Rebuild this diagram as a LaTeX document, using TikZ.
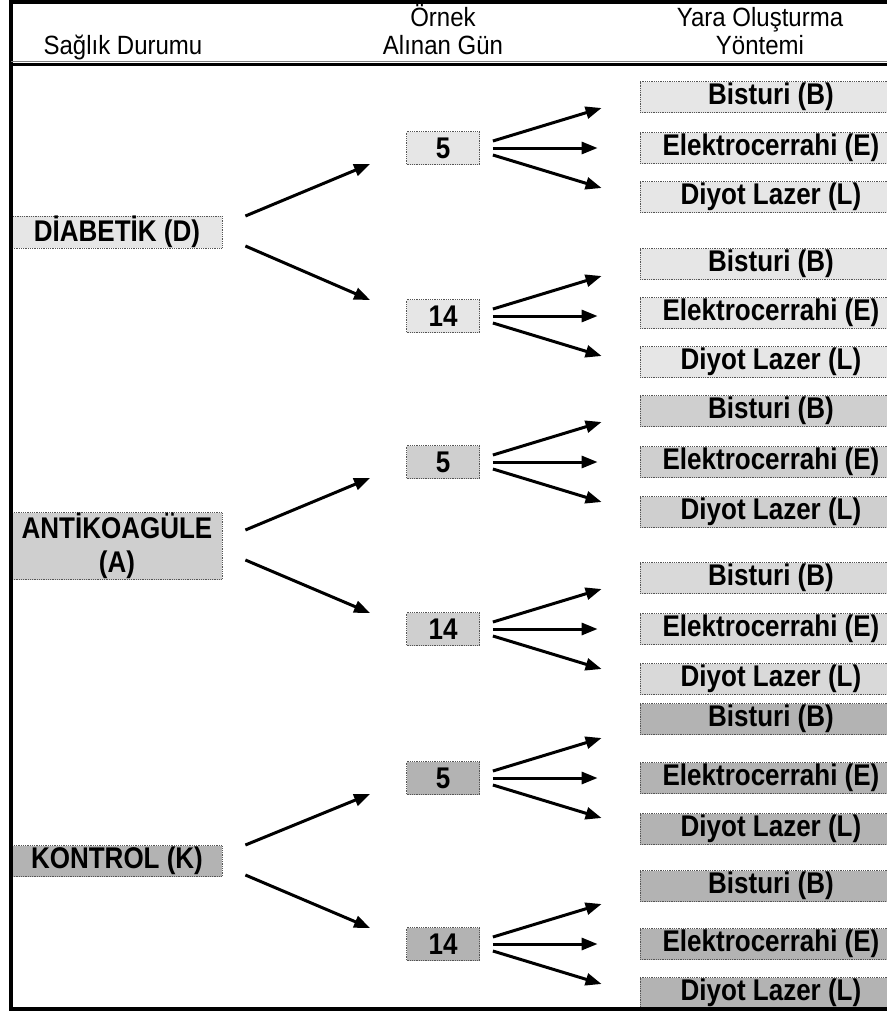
\documentclass[tikz,border=0pt]{standalone}
\usepackage{fontspec}
\setmainfont{Liberation Sans}
\usetikzlibrary{arrows.meta,calc}
\definecolor{cD}{HTML}{E6E6E6}
\definecolor{cA}{HTML}{CFCFCF}
\definecolor{cAl}{HTML}{D9D9D9}
\definecolor{cK}{HTML}{B3B3B3}
\definecolor{bordc}{HTML}{555555}
\newcommand{\tx}[1]{\scalebox{1}[1.15]{#1}}
\newcommand{\hx}[1]{\scalebox{1}[1.1]{#1}}
\begin{document}
\begin{tikzpicture}[x=1pt,y=-1pt,
 box/.style={draw=bordc, densely dotted, line width=0.8pt, inner sep=0pt, font=\fontsize{26}{28}\selectfont\bfseries, anchor=center, minimum height=31pt},
 lone/.style={box, minimum width=210pt},
 ltwo/.style={box, minimum width=73pt, minimum height=33pt},
 lthree/.style={box, minimum width=262pt},
 arr/.style={line width=3pt, -{Triangle[length=16pt,width=12pt]}},
 head/.style={font=\fontsize{24}{29}\selectfont, anchor=base},
]
\useasboundingbox (0,0) rectangle (887,1013);
\clip (0,0) rectangle (887,1013);
\fill[white] (0,0) rectangle (887,1013);

% header
\node[head] (h1) at (123,54) {\hx{Sağlık Durumu}};
\node[head] (h2a) at (443,26) {\hx{Örnek}};
\node[head] (h2b) at (443,54) {\hx{Alınan Gün}};
\node[head] (h3a) at (760,26) {\hx{Yara Oluşturma}};
\node[head] (h3b) at (760,54) {\hx{Yöntemi}};

% level 1
\node[lone, fill=cD] (D) at (117,232) {\tx{DİABETİK (D)}};
\node[lone, fill=cA, minimum height=67pt, align=center, font=\fontsize{26}{34}\selectfont\bfseries] (A) at (117,546) {\tx{ANTİKOAGÜLE}\\\tx{(A)}};
\node[lone, fill=cK] (K) at (117,861) {\tx{KONTROL (K)}};

% level 2
\node[ltwo, fill=cD] (d5) at (443,148) {\tx{5}};
\node[ltwo, fill=cD] (d14) at (443,316) {\tx{14}};
\node[ltwo, fill=cA] (a5) at (443,462) {\tx{5}};
\node[ltwo, fill=cA] (a14) at (443,629) {\tx{14}};
\node[ltwo, fill=cK] (k5) at (443,778) {\tx{5}};
\node[ltwo, fill=cK] (k14) at (443,944) {\tx{14}};

% level 3
\foreach \g/\c/\yb/\ye/\yl in {d5/cD/97/148/197, d14/cD/264/313/362, a5/cA/411/462/512, a14/cAl/578/629/679, k5/cK/719/778/829, k14/cK/886/944/993}{
 \node[lthree, fill=\c] (\g-b) at (771,\yb) {\tx{Bisturi (B)}};
 \node[lthree, fill=\c] (\g-e) at (771,\ye) {\tx{Elektrocerrahi (E)}};
 \node[lthree, fill=\c] (\g-l) at (771,\yl) {\tx{Diyot Lazer (L)}};
}

% arrows level 2 -> level 3
\foreach \g in {d5,d14,a5,a14,k5,k14}{
 \draw[arr] ($(\g.east)+(13,-7)$) -- ($(\g.east -| \g-e.west)+(-38,-40)$);
 \draw[arr] ($(\g.east)+(13,0)$) -- ($(\g.east -| \g-e.west)+(-42,0)$);
 \draw[arr] ($(\g.east)+(13,7)$) -- ($(\g.east -| \g-e.west)+(-38,40)$);
}

% arrows level 1 -> level 2
\foreach \p/\a/\b in {D/d5/d14, A/a5/a14, K/k5/k14}{
 \draw[arr] ($(\p.east)+(23,-16)$) -- ($(\a.west)+(-36,16)$);
 \draw[arr] ($(\p.east)+(23,14)$) -- ($(\b.west)+(-36,-16)$);
}

% frame
\draw[line width=3.5pt] (11,0) -- (11,1011);
\draw[line width=3.5pt] (9,1.75) -- (890,1.75);
\draw[line width=1pt, gray] (11,61.5) -- (890,61.5);
\draw[line width=3pt] (9,64.5) -- (890,64.5);
\draw[line width=4pt] (9,1009) -- (890,1009);
\end{tikzpicture}
\end{document}
